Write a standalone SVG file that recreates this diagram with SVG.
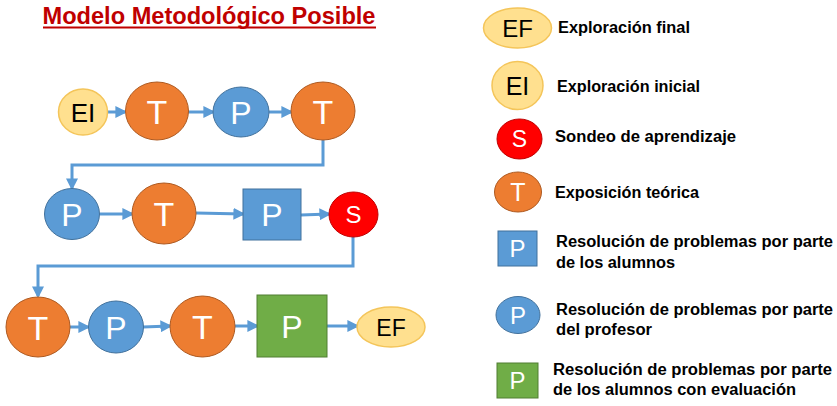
<svg xmlns="http://www.w3.org/2000/svg" width="837" height="406" viewBox="0 0 837 406">
  <style>
    .t { fill: #ED7D31; stroke: #AE5A21; stroke-width: 1; }
    .p { fill: #5B9BD5; stroke: #41719C; stroke-width: 1; }
    .g { fill: #70AD47; stroke: #507E32; stroke-width: 1; }
    .s { fill: #FF0000; stroke: #C00000; stroke-width: 1; }
    .e { fill: #FFE08F; stroke: #F4C55A; stroke-width: 1.5; }
    .lw { font-family: "Liberation Sans", Arial, sans-serif; fill: #FFFFFF; text-anchor: middle; }
    .lb { font-family: "Liberation Sans", Arial, sans-serif; fill: #000000; text-anchor: middle; }
    .leg { font-family: "Liberation Sans", Arial, sans-serif; font-weight: bold; font-size: 16px; fill: #000000; }
    .c { fill: none; stroke: #5B9BD5; stroke-width: 3; marker-end: url(#ah); }
  </style>
  <defs>
    <marker id="ah" markerWidth="4" markerHeight="4" refX="3.2" refY="2" orient="auto" markerUnits="strokeWidth">
      <path d="M0,0 L4,2 L0,4 Z" fill="#5B9BD5"/>
    </marker>
  </defs>

  <rect width="837" height="406" fill="#FFFFFF"/>

  <!-- title -->
  <text x="209" y="24" font-family="Liberation Sans, Arial, sans-serif" font-weight="bold" font-size="23" fill="#C00000" text-anchor="middle" textLength="333" lengthAdjust="spacingAndGlyphs">Modelo Metodológico Posible</text>
  <line x1="43" y1="27.5" x2="376" y2="27.5" stroke="#C00000" stroke-width="1.8"/>

  <!-- connectors -->
  <g id="connectors">
    <line class="c" x1="107" y1="112" x2="125" y2="112"/>
    <line class="c" x1="188" y1="112" x2="213" y2="112"/>
    <line class="c" x1="269" y1="112" x2="291" y2="112"/>
    <polyline class="c" points="323,140 323,165 72,165 72,188"/>
    <line class="c" x1="100" y1="214" x2="132" y2="214"/>
    <line class="c" x1="196" y1="213" x2="243" y2="214"/>
    <line class="c" x1="301" y1="215" x2="329" y2="214"/>
    <polyline class="c" points="353,237 353,266 38,266 38,296"/>
    <line class="c" x1="70" y1="327" x2="88" y2="327"/>
    <line class="c" x1="143" y1="327" x2="170" y2="326"/>
    <line class="c" x1="235" y1="326" x2="257" y2="326"/>
    <line class="c" x1="327" y1="326" x2="357" y2="326"/>
  </g>

  <!-- row 1 -->
  <g id="n-ei"><ellipse class="e" cx="83" cy="112" rx="24.5" ry="23"/><text class="lb" x="83" y="121.5" font-size="26">EI</text></g>
  <g id="n-t1"><ellipse class="t" cx="157" cy="111" rx="31.5" ry="29"/><text class="lw" x="157" y="123.5" font-size="34">T</text></g>
  <g id="n-p1"><ellipse class="p" cx="241" cy="112" rx="28" ry="25"/><text class="lw" x="241" y="124" font-size="32">P</text></g>
  <g id="n-t2"><ellipse class="t" cx="323" cy="111" rx="32" ry="29"/><text class="lw" x="323" y="123.5" font-size="34">T</text></g>

  <!-- row 2 -->
  <g id="n-p2"><ellipse class="p" cx="72" cy="214" rx="27.5" ry="25.5"/><text class="lw" x="72" y="226" font-size="32">P</text></g>
  <g id="n-t3"><ellipse class="t" cx="164" cy="213.5" rx="32" ry="30.5"/><text class="lw" x="164" y="226" font-size="34">T</text></g>
  <g id="n-p3"><rect class="p" x="243" y="189" width="58" height="51"/><text class="lw" x="272" y="226" font-size="32">P</text></g>
  <g id="n-s"><ellipse class="s" cx="353.5" cy="214.5" rx="24.5" ry="22.5"/><text class="lw" x="353.5" y="223" font-size="24">S</text></g>

  <!-- row 3 -->
  <g id="n-t4"><ellipse class="t" cx="38" cy="327" rx="32" ry="30"/><text class="lw" x="38" y="339.5" font-size="34">T</text></g>
  <g id="n-p4"><ellipse class="p" cx="116" cy="327" rx="27.5" ry="26"/><text class="lw" x="116" y="339" font-size="32">P</text></g>
  <g id="n-t5"><ellipse class="t" cx="202.5" cy="326.5" rx="32.5" ry="30.5"/><text class="lw" x="202.5" y="339" font-size="34">T</text></g>
  <g id="n-p5"><rect class="g" x="257" y="295" width="70" height="62"/><text class="lw" x="292" y="338" font-size="32">P</text></g>
  <g id="n-ef"><ellipse class="e" cx="391" cy="327" rx="34" ry="20"/><text class="lb" x="391" y="335.5" font-size="23">EF</text></g>

  <!-- legend -->
  <g id="leg-ef"><ellipse class="e" cx="517.5" cy="28" rx="34" ry="20"/><text class="lb" x="517.5" y="37" font-size="24">EF</text>
    <text class="leg" x="558" y="33" textLength="132" lengthAdjust="spacingAndGlyphs">Exploración final</text></g>
  <g id="leg-ei"><ellipse class="e" cx="517.5" cy="85.5" rx="25.5" ry="24"/><text class="lb" x="517.5" y="95" font-size="25">EI</text>
    <text class="leg" x="557" y="92" textLength="143" lengthAdjust="spacingAndGlyphs">Exploración inicial</text></g>
  <g id="leg-s"><ellipse class="s" cx="519.5" cy="139" rx="22.5" ry="20"/><text class="lw" x="519.5" y="147" font-size="23">S</text>
    <text class="leg" x="555" y="142" textLength="181" lengthAdjust="spacingAndGlyphs">Sondeo de aprendizaje</text></g>
  <g id="leg-t"><ellipse class="t" cx="518" cy="192" rx="23.5" ry="20"/><text class="lw" x="518" y="201" font-size="25">T</text>
    <text class="leg" x="555" y="198" textLength="144" lengthAdjust="spacingAndGlyphs">Exposición teórica</text></g>
  <g id="leg-ps"><rect class="p" x="498" y="231" width="39" height="35"/><text class="lw" x="517.5" y="257" font-size="24">P</text>
    <text class="leg" x="556" y="247" textLength="277" lengthAdjust="spacingAndGlyphs">Resolución de problemas por parte</text>
    <text class="leg" x="556" y="268" textLength="119" lengthAdjust="spacingAndGlyphs">de los alumnos</text></g>
  <g id="leg-pc"><ellipse class="p" cx="518" cy="315" rx="22" ry="18.5"/><text class="lw" x="518" y="324" font-size="24">P</text>
    <text class="leg" x="556" y="315" textLength="277" lengthAdjust="spacingAndGlyphs">Resolución de problemas por parte</text>
    <text class="leg" x="556" y="335" textLength="96" lengthAdjust="spacingAndGlyphs">del profesor</text></g>
  <g id="leg-pg"><rect class="g" x="497" y="363" width="41" height="35"/><text class="lw" x="517.5" y="389" font-size="24">P</text>
    <text class="leg" x="553" y="375" textLength="279" lengthAdjust="spacingAndGlyphs">Resolución de problemas por parte</text>
    <text class="leg" x="553" y="395" textLength="243" lengthAdjust="spacingAndGlyphs">de los alumnos con evaluación</text></g>
</svg>
